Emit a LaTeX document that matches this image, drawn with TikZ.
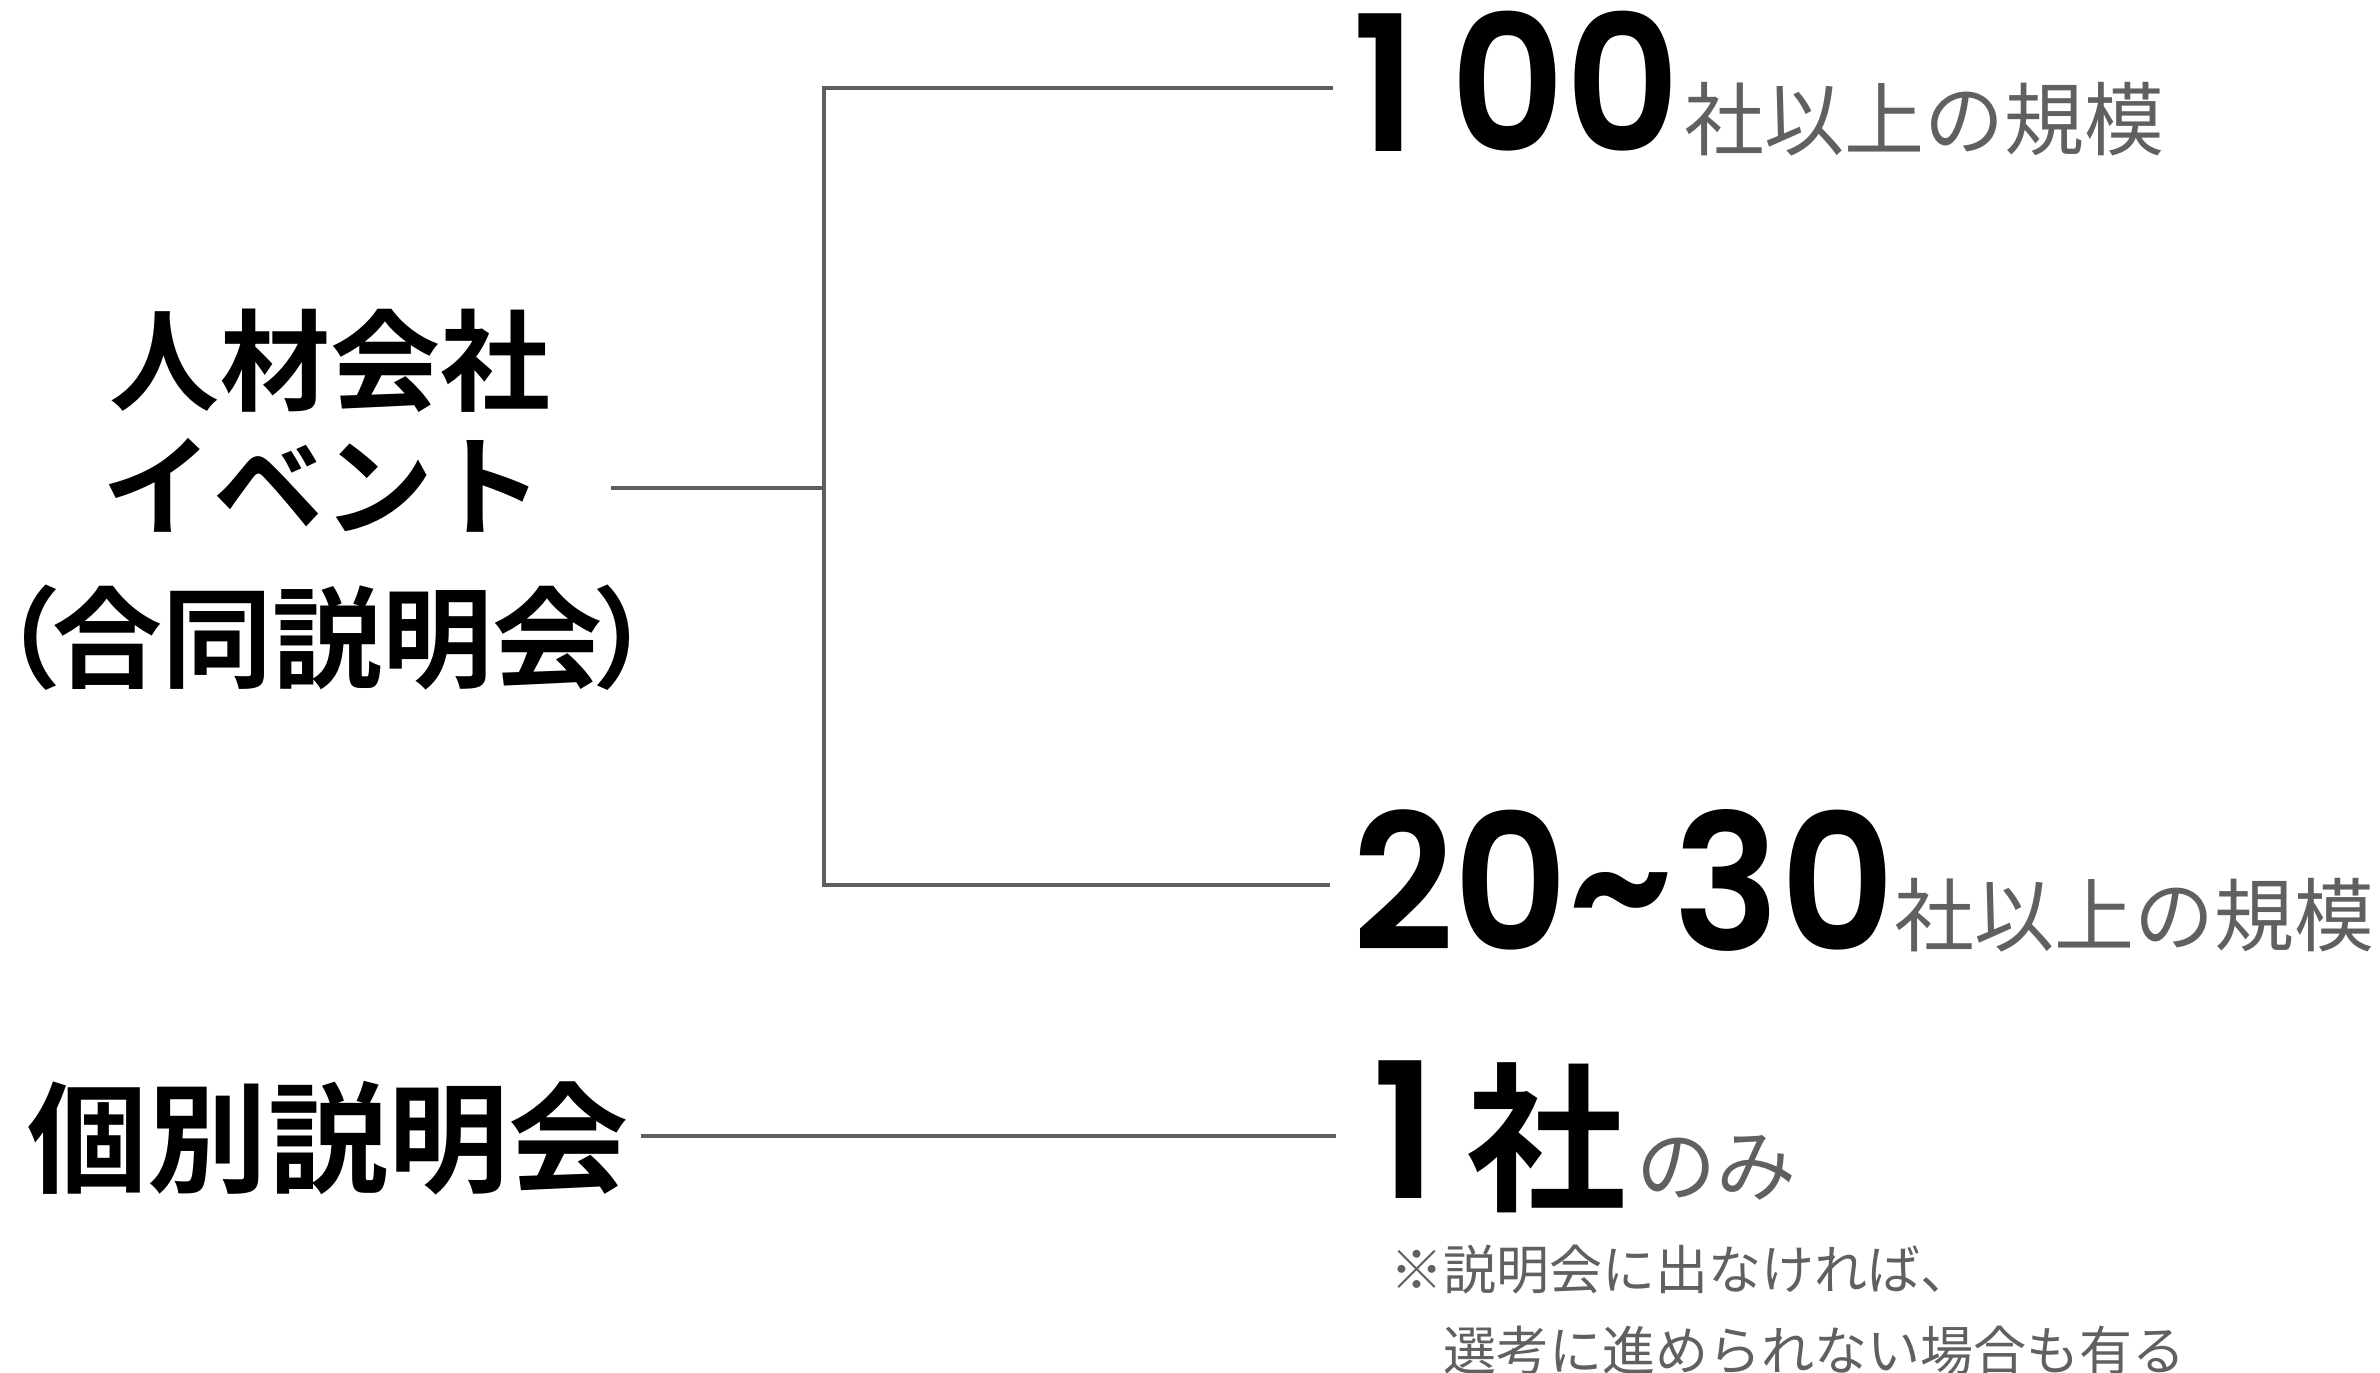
\documentclass[tikz,border=0pt]{standalone}
\usepackage{fontspec}
\newfontfamily\jpb[UprightFont=* Bold]{Noto Sans CJK JP}
\newfontfamily\jpl{Noto Sans CJK JP}
\newfontfamily\popb[UprightFont=* SemiBold, FakeStretch=0.94]{Poppins}
\definecolor{linegray}{RGB}{95,95,95}
\definecolor{txtgray}{RGB}{96,96,96}
\begin{document}
\begin{tikzpicture}[x=1bp,y=-1bp,
  every node/.style={inner sep=0pt, outer sep=0pt},
  conn/.style={draw=linegray, line width=4.5bp},
  lbl/.style={font=\jpb\fontsize{110bp}{110bp}\selectfont, anchor=base},
  lblbig/.style={font=\jpb\fontsize{120bp}{120bp}\selectfont, anchor=base},
  num/.style={font=\popb\fontsize{189bp}{189bp}\selectfont, anchor=base west},
  bigkanji/.style={font=\jpb\fontsize{160bp}{160bp}\selectfont, anchor=base west},
  sub/.style={font=\jpl\fontsize{80bp}{80bp}\selectfont, text=txtgray, anchor=base west},
  note/.style={font=\jpl\fontsize{53bp}{53bp}\selectfont, text=txtgray, anchor=base west}]
\useasboundingbox (0,0) rectangle (2380,1373);
\fill[white] (0,0) rectangle (2380,1373);
% left labels
\node[lbl] (l1) at (330,402) {人材会社};
\node[lbl] (l2) at (323,527) {イベント};
\node[lbl] (l3) at (327,679) {\kern-50bp（\kern-10bp 合同説明会\kern-10bp ）\kern-50bp};
\node[lblbig] (l4) at (328,1183) {個別説明会};
% right labels
\node[num] (n1) at (1352,152) {1\kern34bp 00};
\node[sub] (s1) at (1684,150) {社以上の規模};
\node[num] (n2) at (1352,950) {20\string~30};
\node[sub] (s2) at (1894,945) {社以上の規模};
\node[num] (n3) at (1372,1198) {1};
\node[bigkanji] (n3b) at (1466,1198) {社};
\node[sub] (s3) at (1636,1195) {のみ};
\node[note] (m1) at (1390,1289) {※説明会に出なければ、};
\node[note] (m2) at (1443,1370) {選考に進められない場合も有る};
% connector points
\coordinate (a0) at (611,488);
\coordinate (j) at (824,488);
\coordinate (tl) at (824,88);
\coordinate (tr) at (1333,88);
\coordinate (bl) at (824,885);
\coordinate (br) at (1330,885);
\coordinate (k0) at (641,1136);
\coordinate (k1) at (1336,1136);
\draw[conn] (tr) -- (tl) -- (bl) -- (br);
\draw[conn] (a0) -- (j);
\draw[conn] (k0) -- (k1);
\end{tikzpicture}
\end{document}
